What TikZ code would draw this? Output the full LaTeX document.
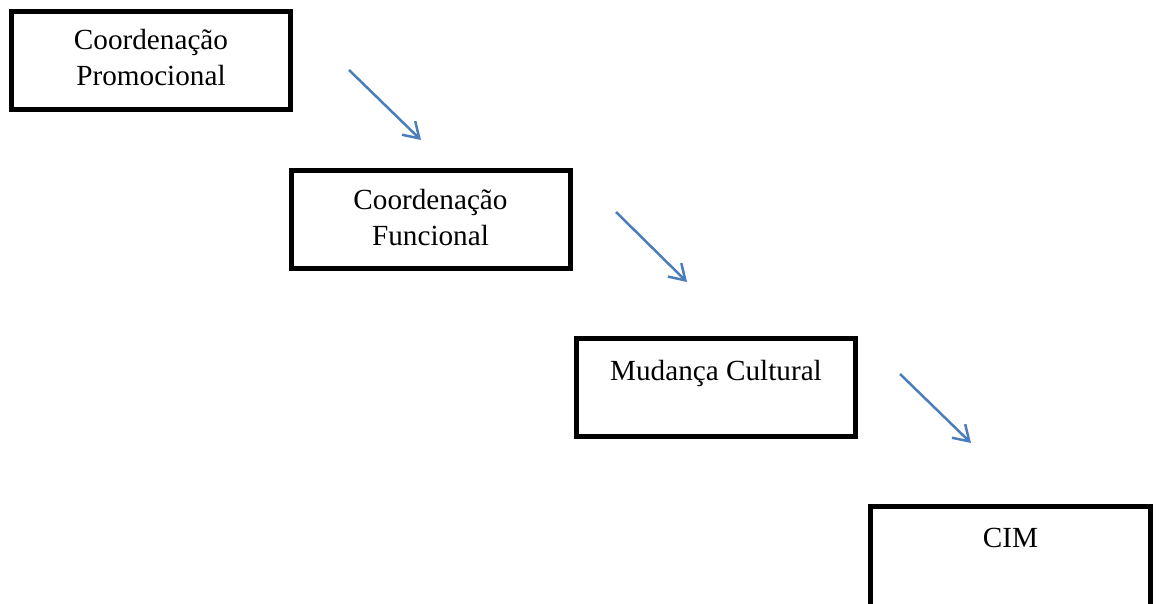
\documentclass[tikz,border=0pt]{standalone}
\usepackage{fontspec}
\setmainfont{Liberation Serif}
\usetikzlibrary{arrows.meta,calc}
\definecolor{arrowblue}{HTML}{4A7EBB}
\tikzset{
  stagebox/.style={draw=black, line width=5pt, minimum width=279pt, minimum height=98pt, inner sep=0pt, fill=white},
  stagetext/.style={anchor=base, align=center, inner sep=0pt, font=\fontsize{29.2}{36}\selectfont},
  flowarrow/.style={draw=arrowblue, line width=2.5pt, -{Straight Barb[length=15pt,width=19pt,line width=2.5pt]}}
}
\begin{document}
\begin{tikzpicture}[x=1pt,y=-1pt]
\useasboundingbox (0,0) rectangle (1160,603);
\clip (0,0) rectangle (1160,603);
\node[stagebox] (b1) at (151,60.5) {};
\node[stagebox] (b2) at (430.5,219) {};
\node[stagebox] (b3) at (716,387.5) {};
\node[stagebox, minimum width=280pt, minimum height=130pt] (b4) at (1010.5,571.5) {};
\node[stagetext] (t1) at ($(b1.north)+(0,76.5)$) {Coordenação\\Promocional};
\node[stagetext] (t2) at ($(b2.north)+(0,77.5)$) {Coordenação\\Funcional};
\node[stagetext] (t3) at ($(b3.north)+(0,44.5)$) {Mudança Cultural};
\node[stagetext] (t4) at ($(b4.north)+(0,43.5)$) {CIM};
\coordinate (a1s) at (349,70);
\coordinate (a1e) at (421,140);
\coordinate (a2s) at (616,212);
\coordinate (a2e) at (687,282);
\coordinate (a3s) at (900,374);
\coordinate (a3e) at (971,443);
\draw[flowarrow] (a1s) -- (a1e);
\draw[flowarrow] (a2s) -- (a2e);
\draw[flowarrow] (a3s) -- (a3e);
\end{tikzpicture}
\end{document}
